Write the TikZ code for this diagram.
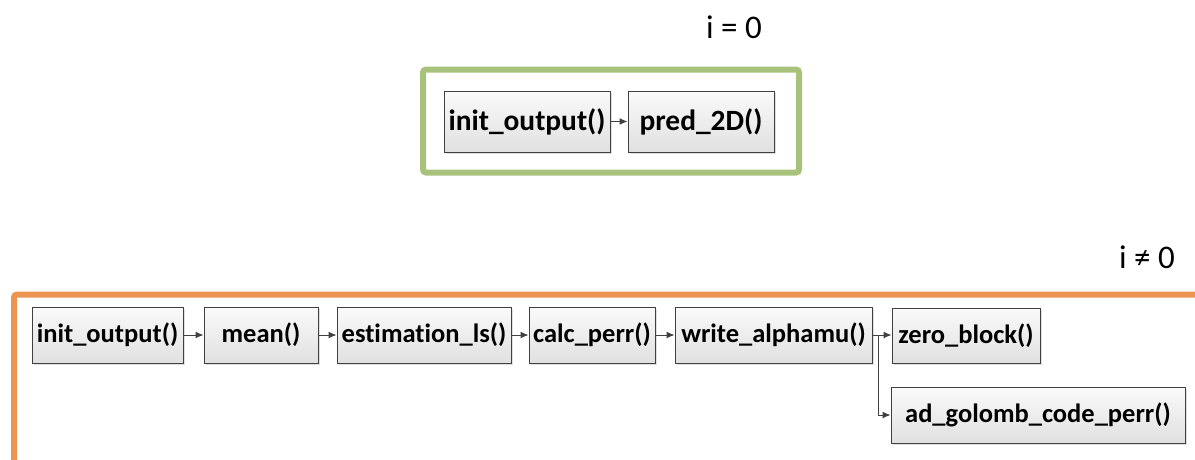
\documentclass[tikz,border=0pt]{standalone}
\usepackage{fontspec}
\setmainfont{Carlito}[Ligatures=NoCommon]
\usetikzlibrary{arrows.meta,shadows}
\definecolor{framegreen}{HTML}{A8C27C}
\definecolor{frameorange}{HTML}{EB9550}
\definecolor{edge}{HTML}{404040}
\tikzset{
  fn/.style={draw=edge, line width=1pt, inner sep=0pt,
    top color=white!98!black, bottom color=white!88!black,
    drop shadow={shadow xshift=2pt, shadow yshift=-2pt, fill=black!18, opacity=0.7},
    font=\bfseries\fontsize{26.5}{30}\selectfont},
  fnbig/.style={fn, font=\bfseries\fontsize{29.4}{34}\selectfont},
  conn/.style={draw=edge, line width=1pt, -{Latex[length=8pt,width=7pt]}},
  cond/.style={inner sep=0pt, font=\fontsize{33}{38}\selectfont},
  frame/.style={line width=6pt, rounded corners=3pt}
}
\begin{document}
\begin{tikzpicture}[x=1pt,y=-1pt]
\useasboundingbox (0,0) rectangle (1195,459);
\begin{scope}
\clip (0,0) rectangle (1195,459);

% first iteration
\node[cond] (c0) at (734,27) {i = 0};
\draw[frame, framegreen] (423,69.5) rectangle (799,172.5);
\node[fnbig, minimum width=166, minimum height=61] (t1) at (527,121.5) {init\_output()};
\node[fnbig, minimum width=146, minimum height=61] (t2) at (701,121.5) {pred\_2D()};
\draw[conn] (t1) -- (t2);

% later iterations
\node[cond] (c1) at (1147,257) {i ≠ 0};
\draw[frame, frameorange] (14,480) -- (14,294.5) -- (1215,294.5);
\node[fn, minimum width=151, minimum height=56] (b1) at (107.5,335) {init\_output()};
\node[fn, minimum width=114, minimum height=56] (b2) at (261,335) {mean()};
\node[fn, minimum width=174, minimum height=56] (b3) at (424,335) {estimation\_ls()};
\node[fn, minimum width=126, minimum height=56] (b4) at (592,335) {calc\_perr()};
\node[fn, minimum width=197, minimum height=56] (b5) at (773.5,335) {write\_alphamu()};
\node[fn, minimum width=148, minimum height=55] (b6) at (966,335.5) {zero\_block()};
\node[fn, minimum width=294, minimum height=56] (b7) at (1038,415) {ad\_golomb\_code\_perr()};
\draw[conn] (b1) -- (b2);
\draw[conn] (b2) -- (b3);
\draw[conn] (b3) -- (b4);
\draw[conn] (b4) -- (b5);
\draw[conn] (b5.east) -- (b5.east -| b6.west);
\coordinate (fork) at ([xshift=6pt]b5.east);
\draw[conn] (fork) |- (b7.west);
\end{scope}
\end{tikzpicture}
\end{document}
